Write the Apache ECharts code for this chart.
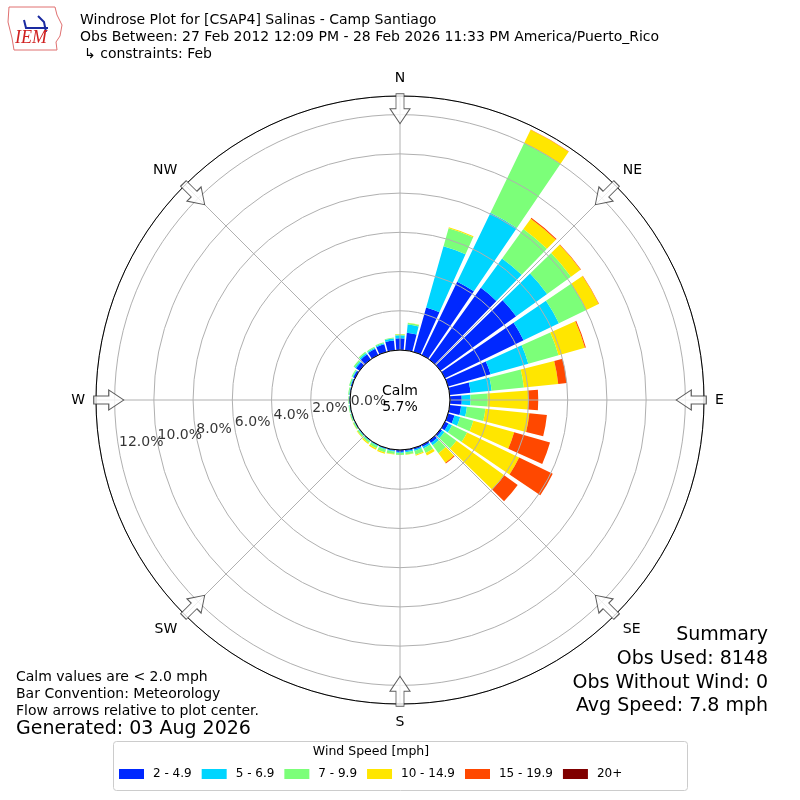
<!DOCTYPE html>
<html>
<head>
<meta charset="utf-8">
<script src="https://cdn.jsdelivr.net/npm/echarts@6/dist/echarts.min.js"></script>
<style>
  html, body { margin: 0; padding: 0; background: #fff; }
  #main { width: 800px; height: 800px; }
</style>
</head>
<body>
<div id="main"></div>
<script>
// direction bins (degrees, meteorology convention)
var directions = ['0', '10', '20', '30', '40', '50', '60', '70', '80', '90', '100', '110',
  '120', '130', '140', '150', '160', '170', '180', '190', '200', '210', '220', '230',
  '240', '250', '260', '270', '280', '290', '300', '310', '320', '330', '340', '350'];

var speedBins = ['2 - 4.9', '5 - 6.9', '7 - 9.9', '10 - 14.9', '15 - 19.9', '20+'];
var binColors = ['#0028ff', '#00d5ff', '#7cff79', '#ffe600', '#ff4800', '#800000'];

// frequency (%) per direction for each speed bin
var speed2to5 = [0.60, 0.90, 2.35, 4.15, 4.50, 4.75, 4.45, 2.25, 1.07, 0.60, 0.58, 0.34,
  0.20, 0.10, 0.15, 0.10, 0.08, 0.07, 0.10, 0.05, 0.04, 0.03, 0.03, 0.03,
  0.03, 0.03, 0.03, 0.03, 0.04, 0.06, 0.10, 0.22, 0.32, 0.35, 0.40, 0.50];
var speed5to7 = [0.15, 0.42, 3.25, 3.90, 1.85, 1.95, 2.00, 2.00, 1.08, 0.45, 0.30, 0.30,
  0.20, 0.15, 0.15, 0.10, 0.07, 0.06, 0.05, 0.05, 0.04, 0.04, 0.03, 0.03,
  0.02, 0.02, 0.02, 0.02, 0.02, 0.03, 0.04, 0.07, 0.08, 0.06, 0.06, 0.10];
var speed7to10 = [0.05, 0.08, 0.95, 3.95, 1.85, 1.50, 1.55, 1.60, 1.65, 0.88, 0.95, 0.70,
  0.85, 0.75, 0.50, 0.25, 0.20, 0.12, 0.10, 0.12, 0.15, 0.12, 0.10, 0.08,
  0.06, 0.05, 0.04, 0.04, 0.05, 0.06, 0.06, 0.08, 0.08, 0.05, 0.05, 0.05];
var speed10to15 = [0.02, 0.01, 0.05, 0.75, 0.65, 0.60, 0.70, 1.40, 1.76, 2.07, 2.25, 2.16,
  2.95, 3.00, 0.60, 0.15, 0.05, 0.02, 0.00, 0.03, 0.07, 0.08, 0.06, 0.03,
  0.02, 0.01, 0.00, 0.00, 0.00, 0.00, 0.00, 0.00, 0.00, 0.00, 0.00, 0.00];
var speed15to20 = [0.00, 0.00, 0.00, 0.02, 0.05, 0.03, 0.02, 0.05, 0.44, 0.50, 0.90, 1.90,
  1.90, 0.85, 0.05, 0.00, 0.00, 0.00, 0.00, 0.00, 0.00, 0.00, 0.00, 0.00,
  0.00, 0.00, 0.00, 0.00, 0.00, 0.00, 0.00, 0.00, 0.00, 0.00, 0.00, 0.00];
var speed20plus = [0, 0, 0, 0, 0, 0, 0, 0, 0, 0, 0, 0, 0, 0, 0, 0, 0, 0,
  0, 0, 0, 0, 0, 0, 0, 0, 0, 0, 0, 0, 0, 0, 0, 0, 0, 0];

var compassLabels = ['N', 'NE', 'E', 'SE', 'S', 'SW', 'W', 'NW'];
var compassAngles = [0, 45, 90, 135, 180, 225, 270, 315];
var ringTicks = [0, 2, 4, 6, 8, 10, 12];

var calmPct = '5.7%';
var rMax = 12.95;
var font = "'DejaVu Sans', sans-serif";

var chart = echarts.init(document.getElementById('main'), null, { renderer: 'canvas' });

var allBins = [speed2to5, speed5to7, speed7to10, speed10to15, speed15to20, speed20plus];
var barSeries = allBins.map(function (vals, i) {
  return {
    name: speedBins[i],
    type: 'bar',
    coordinateSystem: 'polar',
    polarIndex: 0,
    stack: 'total',
    data: vals,
    barCategoryGap: '16%',
    itemStyle: { color: binColors[i] },
    emphasis: { disabled: true },
    z: 2
  };
});

var arrowPath = 'path://M-4,0 L4,0 L4,15 L10,15 L0,30 L-10,15 L-4,15 Z';

function txt(x, y, s, size, align) {
  return {
    type: 'text', silent: true, z: 10,
    style: { x: x, y: y, text: s, fill: '#000', font: size + 'px ' + font, align: align || 'left', verticalAlign: 'middle' }
  };
}

var option = {
  backgroundColor: '#fff',
  animation: false,
  textStyle: { fontFamily: font },
  color: binColors,
  polar: [
    { center: ['50%', '50%'], radius: [50, 304] },
    { center: ['50%', '50%'], radius: [50, 304] }
  ],
  angleAxis: [
    {
      polarIndex: 0,
      type: 'category',
      data: directions,
      startAngle: 95,
      clockwise: true,
      z: 4,
      axisLine: { show: true, lineStyle: { color: '#000', width: 1 } },
      axisTick: { show: false },
      axisLabel: { show: false },
      splitLine: { show: false }
    },
    {
      polarIndex: 1,
      type: 'value',
      min: 0,
      max: 360,
      interval: 45,
      startAngle: 90,
      clockwise: true,
      z: 3,
      axisLine: { show: false },
      axisTick: { show: false },
      axisLabel: {
        show: true,
        margin: 11,
        fontSize: 14,
        color: '#000',
        fontFamily: font,
        formatter: function (v) {
          var idx = compassAngles.indexOf(v);
          return idx >= 0 ? compassLabels[idx] : '';
        }
      },
      splitLine: { show: true, lineStyle: { color: '#b0b0b0', width: 1 } }
    }
  ],
  radiusAxis: [
    {
      polarIndex: 0,
      min: 0,
      max: rMax,
      interval: 2,
      z: 3,
      axisLine: { show: false },
      axisTick: { show: false },
      axisLabel: { show: false },
      splitLine: { show: true, lineStyle: { color: '#b0b0b0', width: 1 } }
    },
    {
      polarIndex: 1,
      min: 0,
      max: rMax,
      interval: 2,
      axisLine: { show: false },
      axisTick: { show: false },
      axisLabel: { show: false },
      splitLine: { show: false }
    }
  ],
  legend: {
    data: speedBins,
    left: 119,
    top: 768,
    padding: 0,
    itemWidth: 25,
    itemHeight: 10,
    itemGap: 10,
    icon: 'rect',
    selectedMode: false,
    textStyle: { fontSize: 12, color: '#000', fontFamily: font, padding: [0, 0, 0, 4] }
  },
  series: barSeries.concat([
    {
      type: 'scatter',
      coordinateSystem: 'polar',
      polarIndex: 1,
      symbol: arrowPath,
      symbolSize: [20, 30],
      silent: true,
      z: 6,
      itemStyle: { color: '#fff', borderColor: '#333', borderWidth: 1 },
      data: compassAngles.map(function (a) {
        return { value: [12.3, a], symbolRotate: -a };
      })
    },
    {
      type: 'scatter',
      coordinateSystem: 'polar',
      polarIndex: 1,
      symbolSize: 0,
      silent: true,
      z: 6,
      label: {
        show: true,
        position: [0, 0],
        align: 'left',
        verticalAlign: 'bottom',
        fontSize: 14,
        color: '#000',
        fontFamily: font,
        formatter: function (p) { return p.value[0].toFixed(1) + '%'; }
      },
      data: ringTicks.map(function (v) { return [v, 260]; })
    }
  ]),
  graphic: [
    // logo
    {
      type: 'polygon', silent: true,
      shape: { points: [[9, 7], [55, 7], [57, 15], [62, 25], [60, 36], [56, 42], [57, 50], [14, 50], [12, 38], [8, 22]] },
      style: { fill: '#fff', stroke: '#e07070', lineWidth: 1 }
    },
    {
      type: 'polyline', silent: true,
      shape: { points: [[24, 20], [26, 28], [48, 28]] },
      style: { stroke: '#1a2aa0', lineWidth: 2, fill: null }
    },
    {
      type: 'polyline', silent: true,
      shape: { points: [[38, 16], [44, 22], [46, 32]] },
      style: { stroke: '#1a2aa0', lineWidth: 2, fill: null }
    },
    {
      type: 'text', silent: true,
      style: { x: 15, y: 47, text: 'IEM', fill: '#d02020', font: 'italic 18px "Liberation Serif", serif', verticalAlign: 'bottom' }
    },
    // titles
    txt(80, 20, 'Windrose Plot for [CSAP4] Salinas - Camp Santiago', 14),
    txt(80, 37, 'Obs Between: 27 Feb 2012 12:09 PM - 28 Feb 2026 11:33 PM America/Puerto_Rico', 14),
    txt(84, 54, '\u21b3 constraints: Feb', 14),
    // calm
    txt(400, 391, 'Calm', 14, 'center'),
    txt(400, 407, calmPct, 14, 'center'),
    // summary
    txt(768, 635, 'Summary', 19, 'right'),
    txt(768, 659, 'Obs Used: 8148', 19, 'right'),
    txt(768, 683, 'Obs Without Wind: 0', 19, 'right'),
    txt(768, 706, 'Avg Speed: 7.8 mph', 19, 'right'),
    // notes
    txt(16, 677, 'Calm values are < 2.0 mph', 14),
    txt(16, 694, 'Bar Convention: Meteorology', 14),
    txt(16, 711, 'Flow arrows relative to plot center.', 14),
    txt(16, 729, 'Generated: 03 Aug 2026', 19),
    // legend frame and title
    {
      type: 'rect', silent: true, z: -1,
      shape: { x: 113.5, y: 741.5, width: 574, height: 49, r: 3 },
      style: { fill: '#fff', stroke: '#cccccc', lineWidth: 1 }
    },
    txt(371, 752, 'Wind Speed [mph]', 12.5, 'center')
  ]
};

chart.setOption(option);
</script>
</body>
</html>
